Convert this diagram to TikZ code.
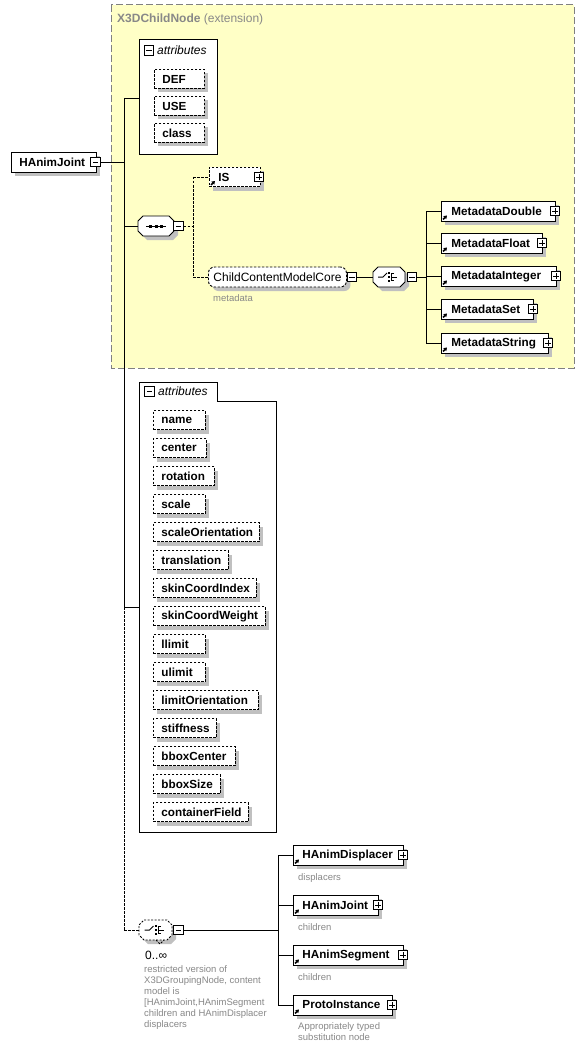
\documentclass[tikz,border=0pt]{standalone}
\usepackage{fontspec}
\setmainfont{Liberation Sans}
\usetikzlibrary{arrows.meta,shadows}
\definecolor{ylw}{RGB}{255,255,198}
\definecolor{shd}{RGB}{192,192,192}
\definecolor{gtx}{RGB}{136,136,136}
\definecolor{ebd}{RGB}{128,128,128}
\newcommand\padbox[3]{\hbox to #1pt{\hskip #2pt #3\hfil}}
% octagon (compositor symbol) around a named coordinate
\newcommand\octo[3]{\path[#3] (#1) ++(-#2+5,-10) -- ++(2*#2-10,0) -- ++(5,5) -- ++(0,10) -- ++(-5,5) -- ++(-2*#2+10,0) -- ++(-5,-5) -- ++(0,-10) -- cycle;}
\tikzset{
  ln/.style={line width=0.9pt},
  dln/.style={line width=0.9pt, dash pattern=on 2.5pt off 1.5pt},
  shad/.style={drop shadow={fill=shd, opacity=1, shadow xshift=4pt, shadow yshift=-4pt}},
  elem/.style={draw, fill=white, line width=0.9pt, inner sep=0pt, minimum height=20pt, anchor=west, font=\bfseries\fontsize{11.7}{14}\selectfont, shad},
  attr/.style={elem, dash pattern=on 2.5pt off 1.5pt, minimum height=19pt},
  pmbox/.style={draw, fill=white, line width=0.7pt, minimum size=9.5pt, inner sep=0pt},
  minusb/.style={pmbox, path picture={\draw[line width=0.7pt] ([xshift=2pt]path picture bounding box.west) -- ([xshift=-2pt]path picture bounding box.east);}},
  plusb/.style={pmbox, path picture={\draw[line width=0.7pt] ([xshift=2pt]path picture bounding box.west) -- ([xshift=-2pt]path picture bounding box.east) ([yshift=-2pt]path picture bounding box.north) -- ([yshift=2pt]path picture bounding box.south);}},
  refarr/.style={line width=1.5pt, -{Triangle[length=3.2pt,width=4pt]}},
  octline/.style={draw, fill=white, line width=0.9pt},
  note/.style={text=gtx, font=\fontsize{9.5}{11}\selectfont, inner sep=0pt, anchor=west},
  notes/.style={text=gtx, font=\fontsize{9.5}{11}\selectfont, inner sep=0pt, anchor=north west, align=left},
}
\begin{document}
\begin{tikzpicture}[x=1pt,y=-1pt]
\useasboundingbox (0,0) rectangle (588,1051);
\fill[white] (0,0) rectangle (588,1051);

% extension area
\draw[fill=ylw, draw=ebd, line width=1pt, dash pattern=on 7pt off 3pt] (111,5) rectangle (574,368);
\node[anchor=west, inner sep=0pt, text=gtx, font=\fontsize{12}{14}\selectfont] (ttl) at (117,19) {\textbf{X3DChildNode} (extension)};

% root
\node[elem, minimum width=85pt] (root) at (11,162) {\padbox{85}{8}{HAnimJoint}};
\node[minusb] (rootm) at (95.5,162) {};

% first attributes group
\node[draw, fill=white, line width=0.9pt, minimum width=78pt, minimum height=115pt, inner sep=0pt] (a1) at (178,96.5) {};
\node[minusb] (a1m) at (149,50.5) {};
\node[anchor=west, inner sep=0pt, font=\itshape\fontsize{12}{14}\selectfont] (a1t) at (157,50.5) {attributes};
\node[attr, minimum width=50pt] (def) at (154,79) {\padbox{50}{8}{DEF}};
\node[attr, minimum width=50pt] (use) at (154,106) {\padbox{50}{8}{USE}};
\node[attr, minimum width=50pt] (cls) at (154,133) {\padbox{50}{8}{class}};

% trunk
\coordinate (t1) at (124,98);
\coordinate (t2) at (124,226);
\coordinate (t3) at (124,607);
\coordinate (t4) at (124,930);
\draw[ln] (rootm.east) -- (rootm.east -| t1);
\draw[ln] (t1) -- (t3);
\draw[ln] (t1) -- (t1 -| a1.west);

% sequence compositor
\coordinate (seq) at (156,226);
\coordinate (seqw) at (138,226);
\octo{[shift={(4,4)}]seq}{18}{fill=shd}
\octo{seq}{18}{octline}
\node[minusb] (seqm) at (178.5,226) {};
\draw[ln] (t2) -- (seqw);
\draw[line width=1pt] ([xshift=-10pt]seq) -- ([xshift=10pt]seq);
\fill ([shift={(-7pt,-1.5pt)}]seq) rectangle ++(3pt,3pt);
\fill ([shift={(-1.5pt,-1.5pt)}]seq) rectangle ++(3pt,3pt);
\fill ([shift={(4pt,-1.5pt)}]seq) rectangle ++(3pt,3pt);

\coordinate (s1) at (193,177);
\coordinate (s2) at (193,277);
\draw[dln] (seqm.east) -- (seqm.east -| s1);
\draw[dln] (s1) -- (s2);

% IS
\node[attr, minimum width=51pt] (is) at (209,177) {\padbox{51}{9}{IS}};
\node[plusb] (isp) at (259,177) {};
\draw[refarr] ([shift={(2pt,2pt)}]is.south west) -- ++(4pt,4pt);
\draw[dln] (s1) -- (is.west);

% ChildContentModelCore
\node[elem, dash pattern=on 2.5pt off 1.5pt, rounded corners=6pt, font=\fontsize{12}{14}\selectfont, minimum width=138pt] (ccm) at (208,277) {\padbox{138}{5}{ChildContentModelCore}};
\node[minusb] (ccmm) at (352,277) {};
\node[note] (ccmn) at (213,298) {metadata};
\draw[dln] (s2) -- (ccm.west);

% choice compositor 1
\coordinate (ch1) at (389,277);
\coordinate (ch1w) at (373,277);
\octo{[shift={(4,4)}]ch1}{16}{fill=shd}
\octo{ch1}{16}{octline}
\node[minusb] (ch1m) at (412,277) {};
\draw[ln] (ccmm.east) -- (ch1w);
\draw[line width=1pt] ([xshift=-11pt]ch1) -- ([xshift=-6pt]ch1) -- ([shift={(-2pt,4pt)}]ch1);
\fill ([shift={(-1pt,2.7pt)}]ch1) rectangle ++(2.4pt,2.4pt);
\fill ([shift={(-1pt,-1.2pt)}]ch1) rectangle ++(2.4pt,2.4pt);
\fill ([shift={(-1pt,-5.1pt)}]ch1) rectangle ++(2.4pt,2.4pt);
\draw[line width=0.9pt] ([shift={(5pt,3.5pt)}]ch1) -- ([shift={(2.5pt,3.5pt)}]ch1) -- ([shift={(2.5pt,-3.5pt)}]ch1) -- ([shift={(5pt,-3.5pt)}]ch1);
\draw[line width=0.9pt] ([xshift=2.5pt]ch1) -- ([xshift=8pt]ch1);

\coordinate (c0) at (426,277);
\coordinate (c1) at (426,211);
\coordinate (c2) at (426,343);
\draw[ln] (ch1m.east) -- (c0);
\draw[ln] (c1) -- (c2);

% metadata elements
\node[elem, minimum width=114pt] (md) at (441,211) {\padbox{114}{10}{MetadataDouble}};
\node[plusb] (mdp) at (555,211) {};
\node[elem, minimum width=101pt] (mf) at (441,243) {\padbox{101}{10}{MetadataFloat}};
\node[plusb] (mfp) at (542,243) {};
\node[elem, minimum width=115pt] (mi) at (441,276) {\padbox{115}{10}{MetadataInteger}};
\node[plusb] (mip) at (556,276) {};
\node[elem, minimum width=92pt] (ms) at (441,309) {\padbox{92}{10}{MetadataSet}};
\node[plusb] (msp) at (533,309) {};
\node[elem, minimum width=107pt] (mst) at (441,343) {\padbox{107}{10}{MetadataString}};
\node[plusb] (mstp) at (548,343) {};
\foreach \n in {md,mf,mi,ms,mst}{
  \draw[ln] (\n.west -| c1) -- (\n.west);
  \draw[refarr] ([shift={(2pt,2pt)}]\n.south west) -- ++(4pt,4pt);
}

% second attributes group
\draw[fill=white, line width=0.9pt] (139,382) -- (217,382) -- (217,401) -- (276,401) -- (276,832) -- (139,832) -- cycle;
\coordinate (a2w) at (139,607);
\draw[ln] (t3) -- (a2w);
\node[minusb] (a2m) at (149.5,391.5) {};
\node[anchor=west, inner sep=0pt, font=\itshape\fontsize{12}{14}\selectfont] (a2t) at (158,391.5) {attributes};
\node[attr, minimum width=52pt] (n1) at (153,420) {\padbox{52}{8}{name}};
\node[attr, minimum width=53pt] (n2) at (153,448) {\padbox{53}{8}{center}};
\node[attr, minimum width=61pt] (n3) at (153,476) {\padbox{61}{8}{rotation}};
\node[attr, minimum width=52pt] (n4) at (153,504) {\padbox{52}{8}{scale}};
\node[attr, minimum width=106pt] (n5) at (153,532) {\padbox{106}{8}{scaleOrientation}};
\node[attr, minimum width=75pt] (n6) at (153,560) {\padbox{75}{8}{translation}};
\node[attr, minimum width=103pt] (n7) at (153,588) {\padbox{103}{8}{skinCoordIndex}};
\node[attr, minimum width=112pt] (n8) at (153,616) {\padbox{112}{8}{skinCoordWeight}};
\node[attr, minimum width=52pt] (n9) at (153,644) {\padbox{52}{8}{llimit}};
\node[attr, minimum width=52pt] (n10) at (153,672) {\padbox{52}{8}{ulimit}};
\node[attr, minimum width=105pt] (n11) at (153,700) {\padbox{105}{8}{limitOrientation}};
\node[attr, minimum width=63pt] (n12) at (153,728) {\padbox{63}{8}{stiffness}};
\node[attr, minimum width=82pt] (n13) at (153,756) {\padbox{82}{8}{bboxCenter}};
\node[attr, minimum width=67pt] (n14) at (153,784) {\padbox{67}{8}{bboxSize}};
\node[attr, minimum width=95pt] (n15) at (153,812) {\padbox{95}{8}{containerField}};

% choice compositor 2 (0..inf)
\draw[dln] (t3) -- (t4);
\coordinate (ch2) at (155.5,930);
\coordinate (ch2w) at (139,930);
\octo{[shift={(4,4)}]ch2}{16.5}{fill=shd}
\octo{ch2}{16.5}{fill=white, draw, line width=0.8pt, dash pattern=on 2pt off 1.5pt}
\draw[line width=0.8pt, dash pattern=on 2pt off 1.5pt] (156,940) -- (160,944) -- (164,940);
\node[minusb] (ch2m) at (178.5,930) {};
\draw[dln] (t4) -- (ch2w);
\draw[line width=1pt] ([xshift=-11pt]ch2) -- ([xshift=-6pt]ch2) -- ([shift={(-2pt,4pt)}]ch2);
\fill ([shift={(-1pt,2.7pt)}]ch2) rectangle ++(2.4pt,2.4pt);
\fill ([shift={(-1pt,-1.2pt)}]ch2) rectangle ++(2.4pt,2.4pt);
\fill ([shift={(-1pt,-5.1pt)}]ch2) rectangle ++(2.4pt,2.4pt);
\draw[line width=0.9pt] ([shift={(5pt,3.5pt)}]ch2) -- ([shift={(2.5pt,3.5pt)}]ch2) -- ([shift={(2.5pt,-3.5pt)}]ch2) -- ([shift={(5pt,-3.5pt)}]ch2);
\draw[line width=0.9pt] ([xshift=2.5pt]ch2) -- ([xshift=8pt]ch2);
\node[anchor=west, inner sep=0pt, font=\fontsize{12}{14}\selectfont] (mult) at (145,955) {0..∞};
\node[notes] (ch2n) at (144,965) {restricted version of\\X3DGroupingNode, content\\model is\\{[}HAnimJoint,HAnimSegment\\children and HAnimDisplacer\\displacers};

\coordinate (b0) at (278,930);
\coordinate (b1) at (278,855);
\coordinate (b2) at (278,1005);
\draw[ln] (ch2m.east) -- (b0);
\draw[ln] (b1) -- (b2);

% children
\node[elem, minimum width=110pt] (hd) at (293,855) {\padbox{110}{9}{HAnimDisplacer}};
\node[plusb] (hdp) at (403,855) {};
\node[note] (hdn) at (298,878) {displacers};
\node[elem, minimum width=85pt] (hj) at (293,905) {\padbox{85}{9}{HAnimJoint}};
\node[plusb] (hjp) at (378,905) {};
\node[note] (hjn) at (298,927) {children};
\node[elem, minimum width=110pt] (hs) at (293,955) {\padbox{110}{9}{HAnimSegment}};
\node[plusb] (hsp) at (403,955) {};
\node[note] (hsn) at (298,977) {children};
\node[elem, minimum width=99pt] (pi) at (293,1005) {\padbox{99}{9}{ProtoInstance}};
\node[plusb] (pip) at (392,1005) {};
\node[notes] (pin) at (298,1022) {Appropriately typed\\substitution node};
\foreach \n in {hd,hj,hs,pi}{
  \draw[ln] (\n.west -| b1) -- (\n.west);
  \draw[refarr] ([shift={(2pt,2pt)}]\n.south west) -- ++(4pt,4pt);
}
\end{tikzpicture}
\end{document}
